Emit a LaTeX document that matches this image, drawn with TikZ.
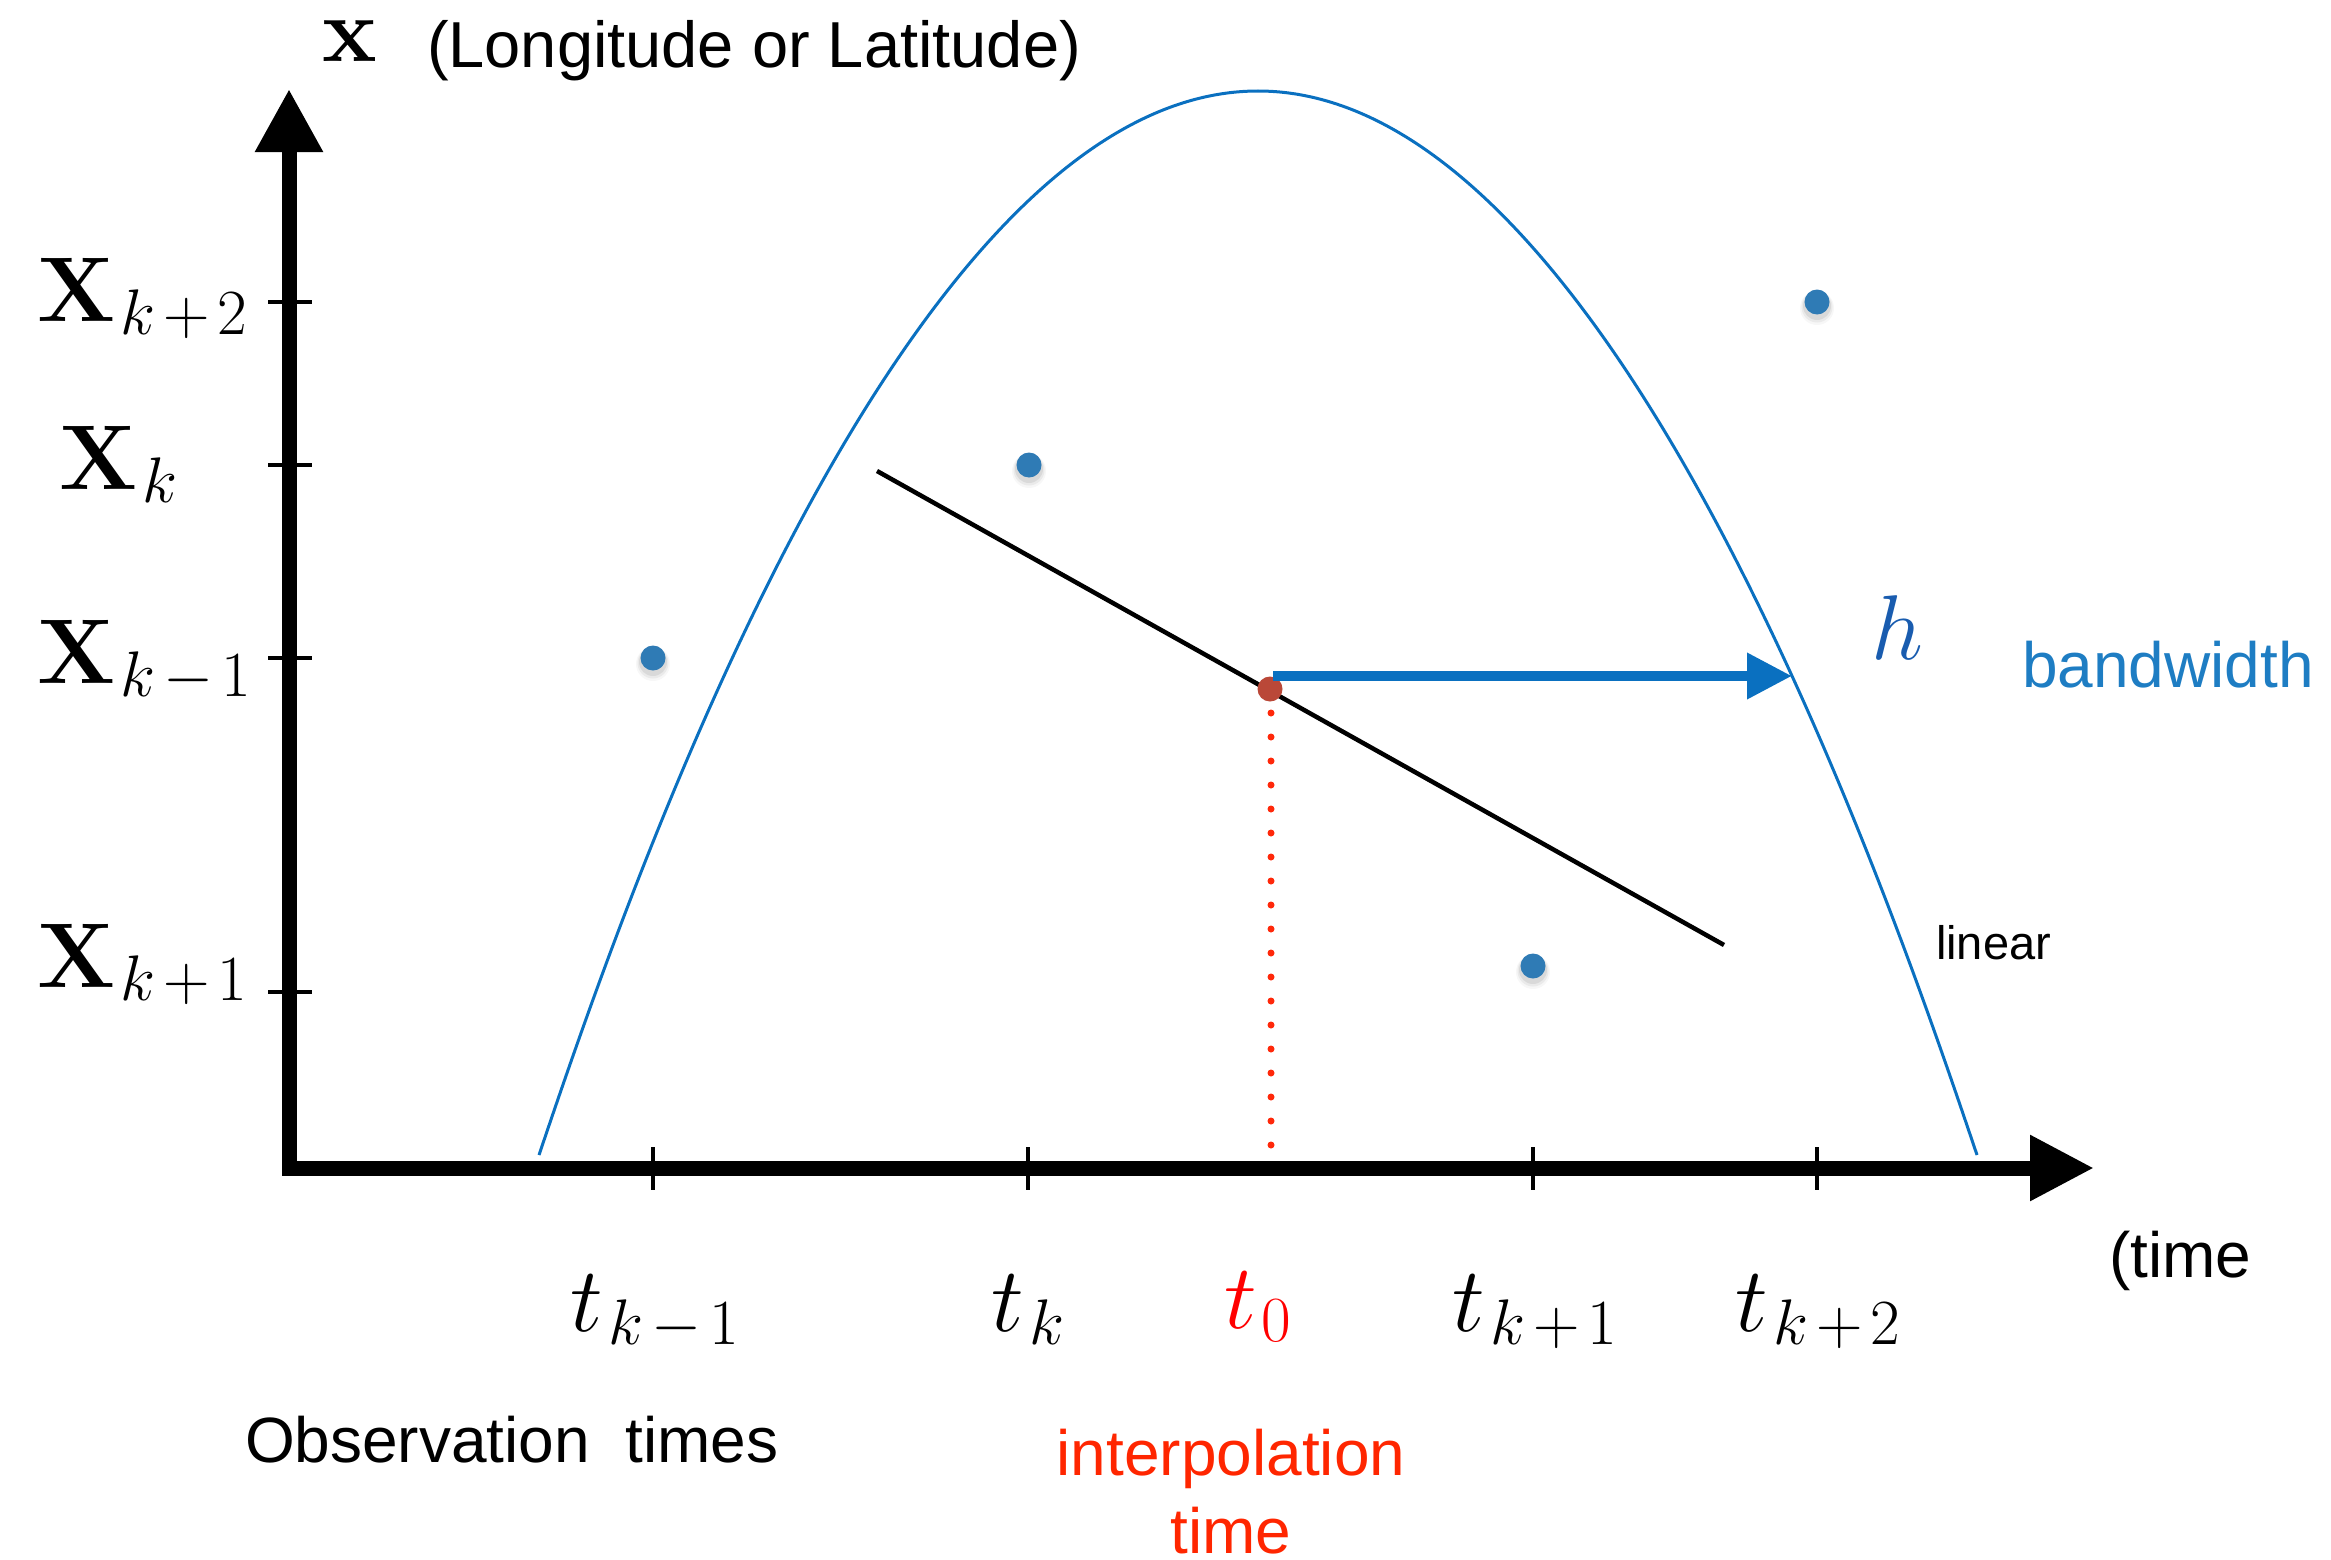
\RequirePackage{fix-cm}
\documentclass[tikz,border=0pt]{standalone}
\usepackage[no-math]{fontspec}
\newfontfamily\hv{Liberation Sans}
\usetikzlibrary{arrows.meta}
\definecolor{curveblue}{RGB}{10,112,192}
\definecolor{dotblue}{RGB}{47,123,181}
\definecolor{dotred}{RGB}{186,72,56}
\definecolor{dotline}{RGB}{255,40,10}
\definecolor{tred}{RGB}{255,0,0}
\definecolor{interpred}{RGB}{255,38,0}
\definecolor{bwblue}{RGB}{30,125,195}
\definecolor{hblue}{RGB}{25,92,175}
\newcommand\obsdot[3]{%
  \fill[black,opacity=0.03] (#2,#3+6) circle[radius=17];
  \fill[black,opacity=0.05] (#2,#3+5) circle[radius=15.5];
  \fill[black,opacity=0.07] (#2,#3+4) circle[radius=14];
  \node[datadot] (#1) at (#2,#3) {};
}
% spacing helpers for subscripts
\newcommand\sbg{\mkern1.5mu}
\newcommand\opg{\mkern2.2mu}
\begin{document}
\begin{tikzpicture}[x=1pt,y=-1pt,
  every node/.style={inner sep=0pt, outer sep=0pt},
  axisline/.style={line width=15pt, line join=miter, line cap=butt},
  tickmark/.style={line width=4.5pt},
  sanslabel/.style={font=\hv\fontsize{64}{76}\selectfont},
  smallsans/.style={font=\hv\fontsize{47}{56}\selectfont},
  mathlabel/.style={font=\fontsize{92}{100}\selectfont},
  datadot/.style={circle, fill=dotblue, minimum size=25pt},
  reddot/.style={circle, fill=dotred, minimum size=25pt},
  kernel/.style={curveblue, line width=3pt},
  fitline/.style={black, line width=4.5pt},
  dotguide/.style={dotline, line width=7pt, line cap=round, dash pattern=on 0pt off 24pt},
  bwarrow/.style={curveblue, line width=10pt, -{Triangle[length=45pt,width=44pt]}}
]
\useasboundingbox (0,0) rectangle (2331,1560);

% kernel curve
\coordinate (cl) at (539,1155);
\coordinate (cv) at (1258,91);
\coordinate (cr) at (1977,1155);
\draw[kernel] (cl) parabola bend (cv) (cr);

% axes
\coordinate (ytip) at (289,89);
\coordinate (origin) at (289,1168);
\coordinate (xtip) at (2094,1168);
\draw[axisline, {Triangle[length=63pt,width=64pt]}-{Triangle[length=64pt,width=62pt]}] (ytip) -- (origin) -- (xtip);

% y ticks
\foreach \yy in {302,465,658,992} {\draw[tickmark] (268,\yy) -- (312,\yy);}
% x ticks
\foreach \xx in {653,1028,1533,1817} {\draw[tickmark] (\xx,1147) -- (\xx,1190);}

% fitted line
\coordinate (la) at (877,471);
\coordinate (lb) at (1724,945);
\draw[fitline] (la) -- (lb);

% observation dots
\obsdot{p1}{653}{658}
\obsdot{p2}{1029}{465}
\obsdot{p3}{1533}{966}
\obsdot{p4}{1817}{302}

% interpolation point
\coordinate (da) at (1271,713);
\coordinate (db) at (1271,1146);
\draw[dotguide] (da) -- (db);
\node[reddot] (r0) at (1270,689) {};

% bandwidth arrow
\coordinate (hstart) at (1273,676);
\coordinate (hend) at (1792,676);
\draw[bwarrow] (hstart) -- (hend);

% y labels
\node[mathlabel, anchor=base west] (lxk2) at (37,321) {$\mathbf{X}_{\sbg k\opg+\opg 2}$};
\node[mathlabel, anchor=base west] (lxk) at (59,489) {$\mathbf{X}_{\sbg k}$};
\node[mathlabel, anchor=base west] (lxkm1) at (37,683) {$\mathbf{X}_{\sbg k\opg-\opg 1}$};
\node[mathlabel, anchor=base west] (lxk1) at (37,987) {$\mathbf{X}_{\sbg k\opg+\opg 1}$};
\node[mathlabel, anchor=base west] (lx) at (322,62) {$\mathbf{x}$};
\node[sanslabel, anchor=base west, font=\hv\fontsize{65}{76}\selectfont] (lxdesc) at (427,68) {(Longitude or Latitude)};

% x labels
\node[mathlabel, anchor=base] (ltkm1) at (655,1331) {$t_{\sbg k\opg-\opg 1}$};
\node[mathlabel, anchor=base] (ltk) at (1028,1331) {$t_{\sbg k}$};
\node[mathlabel, anchor=base, text=tred] (lt0) at (1258,1328) {$t_{\sbg 0}$};
\node[mathlabel, anchor=base] (ltk1) at (1535,1331) {$t_{\sbg k\opg+\opg 1}$};
\node[mathlabel, anchor=base] (ltk2) at (1818,1331) {$t_{\sbg k\opg+\opg 2}$};
\node[sanslabel, anchor=base west] (ltime) at (2109,1277) {(time};
\node[sanslabel, anchor=base west] (lobs) at (245,1462) {Observation\ \ times};
\node[sanslabel, anchor=base, text=interpred] (linterp) at (1231,1475) {interpolation};
\node[sanslabel, anchor=base, text=interpred] (linterp2) at (1231,1553) {time};

% bandwidth labels
\node[mathlabel, anchor=base west, text=hblue] (lh) at (1871,659) {$h$};
\node[sanslabel, anchor=base west, text=bwblue] (lbw) at (2022,687) {bandwidth};
\node[smallsans, anchor=base west] (llin) at (1936,959) {linear};
\end{tikzpicture}
\end{document}
